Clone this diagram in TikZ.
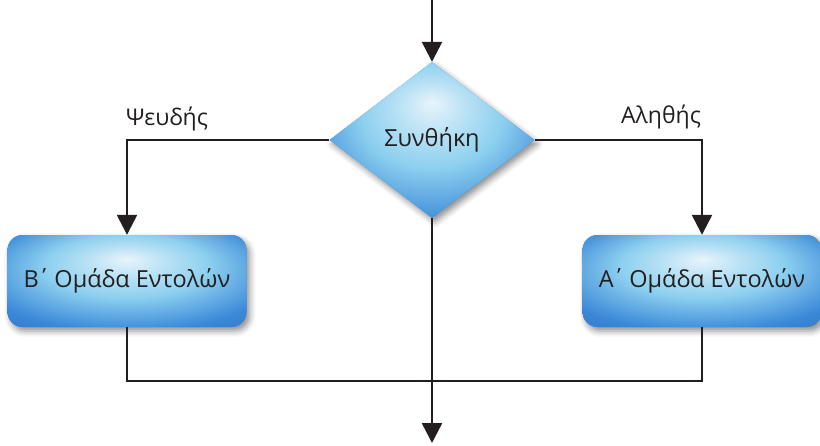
\documentclass[tikz,border=0pt]{standalone}
\usepackage{fontspec}
\setmainfont{Open Sans}
\usetikzlibrary{shapes.geometric,arrows.meta,shadows.blur}
\definecolor{txt}{HTML}{231F20}
\definecolor{edgeblue}{HTML}{3A88D8}
\definecolor{midblue}{HTML}{8DD0EF}
\definecolor{hiblue}{HTML}{E8F4FB}
\pgfdeclareradialshading{glow}{\pgfpoint{0bp}{12bp}}{%
  color(0bp)=(hiblue); color(8bp)=(hiblue!50!midblue); color(17bp)=(midblue); color(32bp)=(edgeblue); color(52bp)=(edgeblue!75!black)}
\tikzset{
  flow/.style={line width=2.5pt, draw=txt},
  arr/.style={flow, -{Triangle[width=20pt,length=20pt]}},
  bluefill/.style={fill=edgeblue, draw=none, text=txt,
    blur shadow={shadow xshift=3pt, shadow yshift=-4pt, shadow blur radius=6pt, shadow opacity=45},
    path picture={
      \shade[shading=glow]
        (path picture bounding box.south west) rectangle (path picture bounding box.north east);
    }},
  stepbox/.style={bluefill, rectangle, rounded corners=15pt, minimum width=239pt, minimum height=92pt, font=\fontsize{23.5}{26}\selectfont},
  cond/.style={bluefill, diamond, minimum width=205pt, minimum height=156pt, inner sep=0pt, font=\fontsize{23.5}{26}\selectfont},
  lbl/.style={text=txt, font=\fontsize{23}{26}\selectfont}
}
\begin{document}
\begin{tikzpicture}[x=1pt,y=-1pt]
\useasboundingbox (0,0) rectangle (820,445);
\coordinate (start) at (432,0);
\coordinate (stop) at (432,443);
\coordinate (merge) at (432,381);
\node[cond] (c) at (432,140) {Συνθήκη};
\node[stepbox] (b) at (127,281) {Β\kern-2pt΄\kern-2pt{} Ομάδα Εντολών};
\node[stepbox] (a) at (702,281) {Α\kern-2pt΄\kern-2pt{} Ομάδα Εντολών};
\draw[arr] (start) -- (c.north);
\draw[arr] (c.west) -| (b.north);
\draw[arr] (c.east) -| (a.north);
\draw[flow] (b.south) -- (b.south |- merge) -- (a.south |- merge) -- (a.south);
\draw[arr] (c.south) -- (stop);
\node[lbl] (f) at (167,119) {Ψευδής};
\node[lbl] (t) at (661,117) {Αληθής};
\end{tikzpicture}
\end{document}
